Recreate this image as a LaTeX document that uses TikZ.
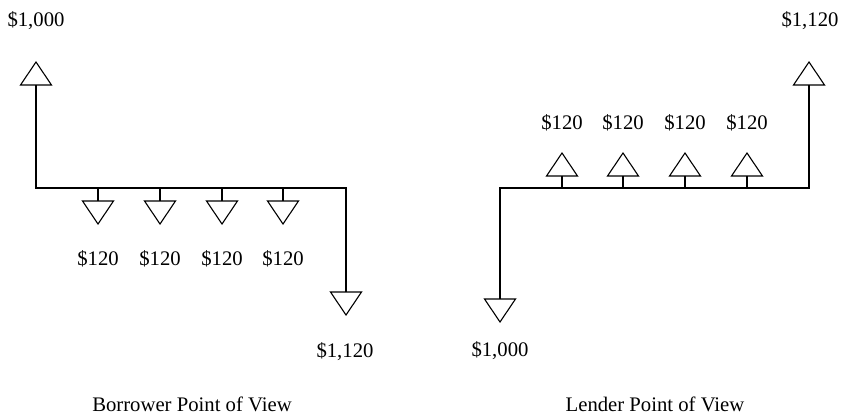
\documentclass[tikz,border=0pt]{standalone}
\usepackage{fontspec}
\setmainfont{Liberation Serif}
\begin{document}
\begin{tikzpicture}[x=1bp,y=-1bp,
  flow/.style={line width=1.1bp, line join=miter},
  amount/.style={anchor=base, inner sep=0pt, font=\fontsize{20.7bp}{24bp}\selectfont},
  caption/.style={anchor=base, inner sep=0pt, font=\fontsize{20.7bp}{24bp}\selectfont}]
\useasboundingbox (0,0) rectangle (841,415);

% arrow heads: open triangle with the flat side at the stem
\newcommand{\uphead}[2]{\draw[flow] (#1-15.5,#2) -- (#1,#2-23) -- (#1+15.5,#2) -- cycle;}
\newcommand{\downhead}[2]{\draw[flow] (#1-15.5,#2) -- (#1,#2+23) -- (#1+15.5,#2) -- cycle;}

% ---------------- borrower ----------------
\coordinate (bL) at (36,188);
\coordinate (bR) at (346,188);
\coordinate (bIn) at (36,85);
\coordinate (bOut) at (346,292);
\draw[flow] (bIn) -- (bL) -- (bR) -- (bOut);
\uphead{36}{85}
\downhead{346}{292}
\node[amount] (b1000) at (36,26) {\$1,000};
\node[amount] (b1120) at (345,357) {\$1,120};
\foreach \x [count=\i] in {98,160,222,283}{
  \coordinate (bt\i) at (\x,188);
  \coordinate (bh\i) at (\x,201);
  \draw[flow] (bt\i) -- (bh\i);
  \downhead{\x}{201}
  \node[amount] (bp\i) at (\x,265) {\$120};
}
\node[caption] (bcap) at (192,411) {Borrower Point of View};

% ---------------- lender ----------------
\coordinate (lL) at (500,188);
\coordinate (lR) at (809,188);
\coordinate (lOut) at (500,299);
\coordinate (lIn) at (809,85);
\draw[flow] (lOut) -- (lL) -- (lR) -- (lIn);
\downhead{500}{299}
\uphead{809}{85}
\node[amount] (l1000) at (500,356) {\$1,000};
\node[amount] (l1120) at (810,26) {\$1,120};
\foreach \x [count=\i] in {562,623,685,747}{
  \coordinate (lt\i) at (\x,188);
  \coordinate (lh\i) at (\x,176);
  \draw[flow] (lt\i) -- (lh\i);
  \uphead{\x}{176}
  \node[amount] (lp\i) at (\x,129) {\$120};
}
\node[caption] (lcap) at (655,411) {Lender Point of View};
\end{tikzpicture}
\end{document}
